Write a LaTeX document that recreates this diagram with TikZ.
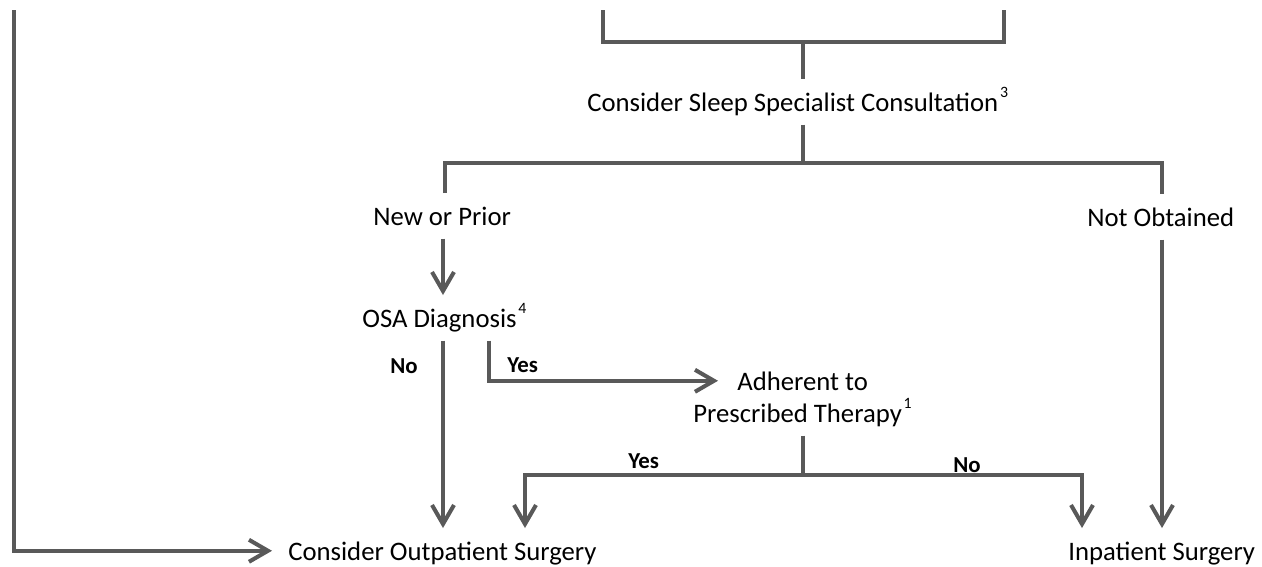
\documentclass[tikz,border=0pt]{standalone}
\usepackage{fontspec}
\setmainfont{Carlito}
\usepackage{xcolor}
\definecolor{flowgray}{RGB}{89,89,89}
\usetikzlibrary{arrows.meta,positioning}
\newcommand{\fnmark}[1]{\kern1pt\raisebox{1.05ex}{\fontsize{9}{11}\selectfont #1}}

\begin{document}
\begin{tikzpicture}[x=0.02cm, y=-0.02cm,
    lbl/.style={font=\fontsize{15.2}{18}\selectfont, inner sep=0pt, text height=18pt, text depth=7.5pt, anchor=base west},
    yesno/.style={font=\fontsize{13}{15}\selectfont\bfseries, inner sep=0pt, anchor=base west},
    flowline/.style={draw=flowgray, line width=2.3pt},
    flowarrow/.style={flowline, -{Straight Barb[length=0.38cm, width=0.44cm]}}]
  \useasboundingbox (0,0) rectangle (1262,566);

  % Text items
  \node[lbl] (consult) at (587,111) {Consider Sleep Specialist Consultation\fnmark{3}};
  \node[lbl] (newprior) at (373,225) {New or Prior};
  \node[lbl] (notobt) at (1087,226) {Not Obtained};
  \node[lbl] (osa) at (362,327) {OSA Diagnosis\fnmark{4}};
  \node[lbl] (adherent) at (737,390) {Adherent to};
  \node[lbl] (therapy) at (693,422) {Prescribed Therapy\fnmark{1}};
  \node[lbl] (outpatient) at (288,560) {Consider Outpatient Surgery};
  \node[lbl] (inpatient) at (1068,560) {Inpatient Surgery};

  % Branch labels
  \node[yesno] (osano) at (390,373) {No};
  \node[yesno] (osayes) at (507,372) {Yes};
  \node[yesno] (adyes) at (628,468) {Yes};
  \node[yesno] (adno) at (953,472) {No};

  % Columns and junctions
  \coordinate (brL) at (603,10);
  \coordinate (brR) at (1004,10);
  \coordinate (brmid) at (803,42);
  \coordinate (jA) at (803,163);
  \coordinate (jB) at (803,475);
  \coordinate (leftcol) at (445,0);
  \coordinate (nocol) at (443,0);
  \coordinate (yescol) at (489,0);
  \coordinate (rightcol) at (1162,0);
  \coordinate (outcol) at (525,0);
  \coordinate (incol) at (1082,0);
  \coordinate (loop) at (14,10);

  % Top bracket
  \draw[flowline] (brL) -- ++(0,32) -| (brR);
  \draw[flowline] (brmid) -- (consult.north -| brmid);

  % Consultation split
  \draw[flowline] (consult.south -| jA) -- (jA);
  \draw[flowline] (newprior.north -| leftcol) |- (jA) -| (notobt.north -| rightcol);

  % Arrows
  \draw[flowarrow] (newprior.south -| nocol) -- (osa.north -| nocol);
  \draw[flowarrow] (notobt.south -| rightcol) -- (inpatient.north -| rightcol);
  \draw[flowarrow] (osa.south -| nocol) -- (outpatient.north -| nocol);
  \draw[flowarrow, shorten >=0.38cm] (osa.south -| yescol) |- (adherent.west);

  % Adherence split
  \draw[flowline] (therapy.south -| jB) -- (jB);
  \draw[flowarrow] (jB) -| (outpatient.north -| outcol);
  \draw[flowarrow] (jB) -| (inpatient.north -| incol);

  % Left loop
  \draw[flowarrow, shorten >=0.32cm] (loop) |- (outpatient.west);
\end{tikzpicture}
\end{document}
